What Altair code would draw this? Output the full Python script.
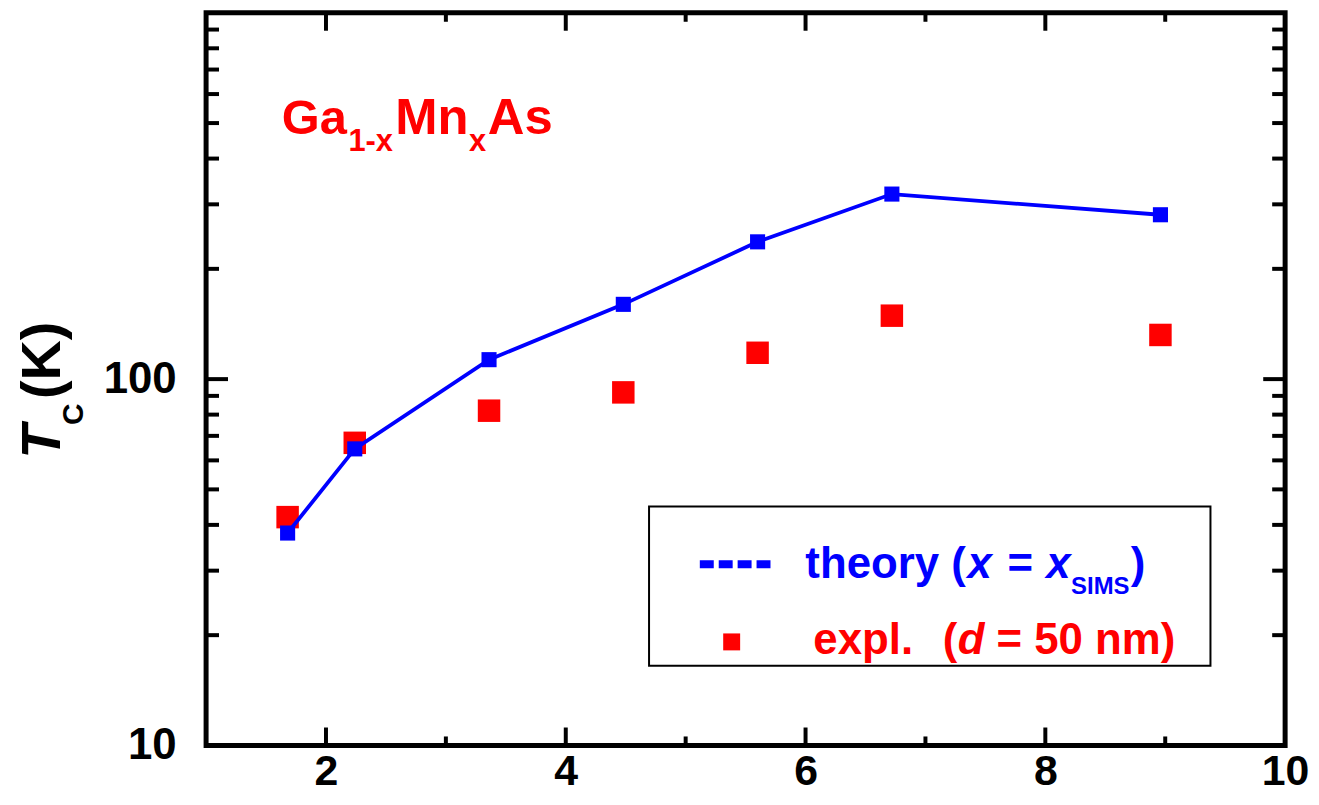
import altair as alt
import pandas as pd

# ---- data ----
x_sims = [1.68, 2.24, 3.36, 4.48, 5.60, 6.72, 8.96]
tc_theory = [38.0, 64.5, 113.0, 160.0, 237.0, 320.0, 281.0]
tc_expl = [42.0, 67.0, 82.0, 92.0, 118.0, 149.0, 132.0]

x_tick_labels = [2, 4, 6, 8, 10]
y_tick_labels = [10, 100]
x_major = [2, 4, 6, 8]
x_minor = [3, 5, 7, 9]
y_major = [100]
y_minor = [20, 30, 40, 50, 60, 70, 80, 90, 200, 300, 400, 500, 600, 700, 800, 900]

W, H = 1084, 736
FONT = "Liberation Sans"
BLUE = "#0000ff"
RED = "#ff0000"

xs = alt.Scale(domain=[1, 10], nice=False, zero=False)
ys = alt.Scale(type="log", domain=[10, 1000], nice=False)

x_axis = alt.Axis(values=x_tick_labels, title=None, ticks=False, tickSize=0, domain=False,
                  grid=False, labelFontSize=43, labelFont=FONT, labelFontWeight="bold",
                  labelPadding=5, labelColor="black", labelFlush=False, labelOverlap=False,
                  format="d")
y_axis = alt.Axis(values=y_tick_labels, title=None, ticks=False, tickSize=0, domain=False,
                  grid=False, labelFontSize=44, labelFont=FONT, labelFontWeight="bold",
                  labelPadding=30, labelColor="black", labelFlush=False, labelOverlap=False,
                  format="d")

df = pd.DataFrame({"x": x_sims, "theory": tc_theory, "expl": tc_expl})
X = alt.X("x:Q", scale=xs, axis=x_axis)

expl_pts = alt.Chart(df).mark_square(size=510, color=RED, opacity=1).encode(
    x=X, y=alt.Y("expl:Q", scale=ys, axis=y_axis))
theory_line = alt.Chart(df).mark_line(color=BLUE, strokeWidth=3.8).encode(
    x=X, y=alt.Y("theory:Q", scale=ys, axis=y_axis))
theory_pts = alt.Chart(df).mark_square(size=230, color=BLUE, opacity=1).encode(
    x=X, y=alt.Y("theory:Q", scale=ys, axis=y_axis))


def yticks(vals, length, right):
    d = pd.DataFrame({"v": vals})
    return alt.Chart(d).mark_rule(color="black", strokeWidth=4).encode(
        y=alt.Y("v:Q", scale=ys, axis=y_axis),
        x=alt.value(W - length if right else 0),
        x2=alt.value(W if right else length))


def xticks(vals, length, top):
    d = pd.DataFrame({"v": vals})
    return alt.Chart(d).mark_rule(color="black", strokeWidth=4).encode(
        x=alt.X("v:Q", scale=xs, axis=x_axis),
        y=alt.value(0 if top else H - length),
        y2=alt.value(length if top else H))


tick_layers = [
    yticks(y_major, 22, False), yticks(y_minor, 13, False),
    yticks(y_major, 22, True), yticks(y_minor, 13, True),
    xticks(x_major, 18, False), xticks(x_minor, 9, False),
    xticks(x_major, 18, True), xticks(x_minor, 9, True),
]

one = pd.DataFrame({"a": [0]})


def txt(s, x, y, size, color="black", style="normal", weight="bold", angle=0, align="left"):
    kw = dict(text=s, font=FONT, fontSize=size, fontWeight=weight, fontStyle=style,
              color=color, align=align, baseline="alphabetic")
    if angle:
        kw["angle"] = angle
    return alt.Chart(one).mark_text(**kw).encode(x=alt.value(x), y=alt.value(y))


# y-axis title  T_C(K)
title_layers = [
    txt("T", -147, 448, 56, style="italic", angle=270),
    txt("C", -124, 414, 30, angle=270),
    txt("(K)", -147, 388, 56, angle=270),
]

# compound label
ann_layers = [
    txt("Ga", 76, 122, 49, RED),
    txt("1-x", 143, 139, 31, RED),
    txt("Mn", 190, 122, 51, RED),
    txt("x", 264, 139, 31, RED),
    txt("As", 283, 122, 51, RED),
]

# legend
legend_box = alt.Chart(one).mark_rect(fill="white", stroke="black", strokeWidth=2).encode(
    x=alt.value(445), x2=alt.value(1009), y=alt.value(496), y2=alt.value(656))
legend_line = alt.Chart(one).mark_rule(color=BLUE, strokeWidth=8, strokeDash=[14, 5]).encode(
    x=alt.value(496), x2=alt.value(567), y=alt.value(554))
legend_sq = alt.Chart(one).mark_square(size=290, color=RED, opacity=1).encode(
    x=alt.value(528), y=alt.value(632))
legend_txt = [
    txt("theory (", 602, 568, 44, BLUE),
    txt("x", 765, 568, 44, BLUE, style="italic"),
    txt("=", 805, 568, 44, BLUE),
    txt("x", 844, 568, 44, BLUE, style="italic"),
    txt("SIMS", 869, 584, 24, BLUE),
    txt(")", 929, 568, 44, BLUE),
    txt("expl.", 610, 644, 44, RED),
    txt("(", 740, 644, 44, RED),
    txt("d", 755, 644, 44, RED, style="italic"),
    txt("= 50 nm)", 794, 644, 44, RED),
]

chart = alt.layer(
    *tick_layers, expl_pts, theory_line, theory_pts,
    legend_box, legend_line, legend_sq, *legend_txt,
    *title_layers, *ann_layers,
).properties(
    width=W, height=H,
    autosize=alt.AutoSizeParams(type="none"),
    padding={"left": 199, "top": 3, "right": 26, "bottom": 54},
).configure_view(stroke="black", strokeWidth=5)

chart.save("out.html", embed_options={"renderer": "svg", "actions": False})
